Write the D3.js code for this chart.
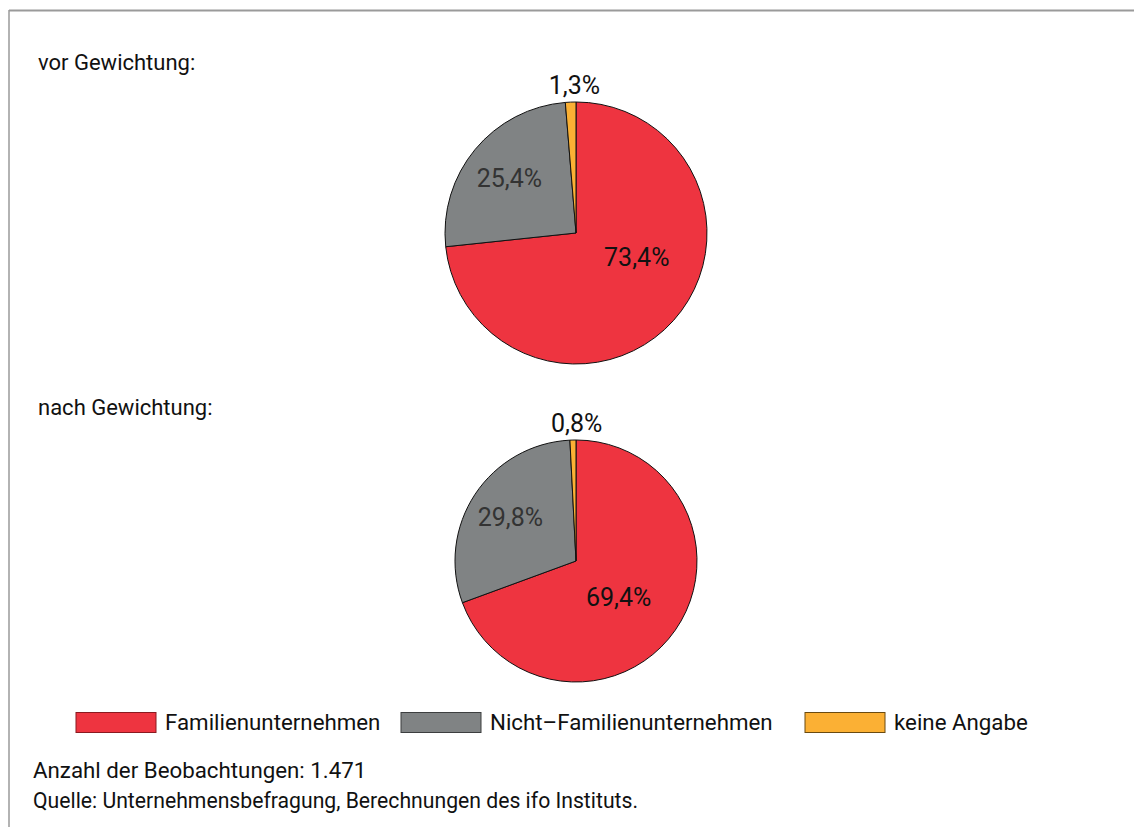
<!DOCTYPE html>
<html>
<head>
<meta charset="utf-8">
<script src="https://cdn.jsdelivr.net/npm/d3@7"></script>
<style>
  body { margin: 0; background: #fff; }
  svg text { font-family: Roboto, "Liberation Sans", sans-serif; }
</style>
</head>
<body>
<div id="chart"></div>
<script>
// categories and colours
var categories = ["Familienunternehmen", "Nicht\u2013Familienunternehmen", "keine Angabe"];
var colors = ["#ee3440", "#808384", "#fbb034"];
var strokes = ["#8a1a20", "#3c3e3f", "#6a4a10"];

// pie values in percent
var vorValues = [73.4, 25.4, 1.3];
var nachValues = [69.4, 29.8, 0.8];
var vorLabels = ["73,4%", "25,4%", "1,3%"];
var nachLabels = ["69,4%", "29,8%", "0,8%"];

var width = 1134, height = 827;

var svg = d3.select("#chart").append("svg")
    .attr("width", width)
    .attr("height", height);

// frame
svg.append("line").attr("x1", 9).attr("x2", width).attr("y1", 10.5).attr("y2", 10.5)
    .attr("stroke", "#9a9a9a").attr("stroke-width", 2);
svg.append("line").attr("x1", 9).attr("x2", 9).attr("y1", 10).attr("y2", height)
    .attr("stroke", "#9a9a9a").attr("stroke-width", 1.5);

var pie = d3.pie().sort(null).value(function(d) { return d; });

// label placement: fraction of r and angle nudge (rad) per slice
function drawPie(values, labels, cx, cy, r, title, titleY, labelFrac, labelNudge) {
    svg.append("text")
        .attr("x", 38).attr("y", titleY)
        .attr("font-size", 22)
        .attr("fill", "#111")
        .text(title);

    var g = svg.append("g").attr("transform", "translate(" + cx + "," + cy + ")");
    var arc = d3.arc().innerRadius(0).outerRadius(r);
    var arcs = pie(values);

    g.selectAll("path")
        .data(arcs)
        .enter().append("path")
        .attr("d", arc)
        .attr("fill", function(d, i) { return colors[i]; })
        .attr("stroke", "#111")
        .attr("stroke-width", 1);

    g.selectAll("text")
        .data(arcs)
        .enter().append("text")
        .attr("transform", function(d, i) {
            var a = (d.startAngle + d.endAngle) / 2 + labelNudge[i];
            var lr = r * labelFrac[i];
            return "translate(" + (Math.sin(a) * lr) + "," + (-Math.cos(a) * lr) + ")";
        })
        .attr("text-anchor", "middle")
        .attr("dy", "0.35em")
        .attr("font-size", 25)
        .attr("fill", function(d, i) { return i === 1 ? "#333" : "#111"; })
        .text(function(d, i) { return labels[i]; });
}

drawPie(vorValues, vorLabels, 576, 233, 131, "vor Gewichtung:", 70, [0.5, 0.66, 1.13], [-0.35, 0, 0.03]);
drawPie(nachValues, nachLabels, 576, 561, 121, "nach Gewichtung:", 415, [0.46, 0.65, 1.14], [0.09, 0, 0.03]);

// legend
var legendX = [76, 401, 805];
var legend = svg.append("g");
categories.forEach(function(c, i) {
    legend.append("rect")
        .attr("x", legendX[i]).attr("y", 712.5)
        .attr("width", 80).attr("height", 20)
        .attr("fill", colors[i])
        .attr("stroke", strokes[i])
        .attr("stroke-width", 1);
    legend.append("text")
        .attr("x", legendX[i] + 89).attr("y", 730)
        .attr("font-size", 22.3)
        .attr("fill", "#111")
        .text(c);
});

// notes
var notes = ["Anzahl der Beobachtungen: 1.471", "Quelle: Unternehmensbefragung, Berechnungen des ifo Instituts."];
var noteSize = [22.3, 21.2];
notes.forEach(function(n, i) {
    svg.append("text")
        .attr("x", 33).attr("y", 778 + i * 30)
        .attr("font-size", noteSize[i])
        .attr("fill", "#111")
        .text(n);
});
</script>
</body>
</html>
